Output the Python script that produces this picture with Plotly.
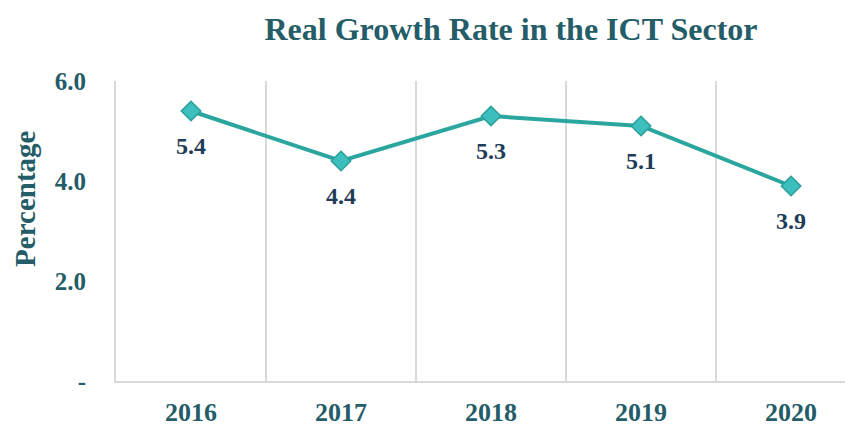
import plotly.graph_objects as go

years = ["2016", "2017", "2018", "2019", "2020"]
growth = [5.4, 4.4, 5.3, 5.1, 3.9]
labels = ["5.4", "4.4", "5.3", "5.1", "3.9"]
y_ticks = [0, 2, 4, 6]
y_ticktext = ["-", "2.0", "4.0", "6.0"]

xpos = list(range(len(years)))
serif = "Liberation Serif, Times New Roman, serif"
title_color = "#245c68"
label_color = "#1f3d58"

W, H = 845, 418  # page body adds an 8px offset

fig = go.Figure()
fig.add_trace(go.Scatter(
    x=xpos, y=growth, mode="lines+markers",
    line=dict(color="#2aa69f", width=4),
    marker=dict(symbol="diamond", size=15, color="#3cbfbd",
                line=dict(color="#2a9f9a", width=1.5)),
    hoverinfo="skip", showlegend=False,
))

for xi, yi, t in zip(xpos, growth, labels):
    fig.add_annotation(x=xi, y=yi, text="<b>" + t + "</b>", showarrow=False, yshift=-35,
                       font=dict(family=serif, size=24, color=label_color))

for b in [0.5, 1.5, 2.5, 3.5]:
    fig.add_shape(type="line", x0=b, x1=b, y0=0, y1=6, xref="x", yref="y",
                  line=dict(color="#d9d9d9", width=2), layer="below")

fig.add_annotation(text="<b>Percentage</b>", textangle=-90, showarrow=False,
                   xref="paper", yref="paper", x=-0.1235, y=0.607,
                   xanchor="center", yanchor="middle",
                   font=dict(family=serif, size=29, color=title_color))

fig.update_layout(
    width=W, height=H,
    margin=dict(l=108, r=0, t=73, b=45),
    paper_bgcolor="white", plot_bgcolor="white",
    title=dict(text="<b>Real Growth Rate in the ICT Sector</b>",
               x=503 / W, xanchor="center", xref="container",
               y=1 - 21 / H, yanchor="middle", yref="container",
               font=dict(family=serif, size=32, color=title_color)),
    xaxis=dict(range=[-0.5, 4.413], tickvals=xpos,
               ticktext=["<b>" + y + "</b>" for y in years],
               showgrid=False, zeroline=False, showline=True,
               linecolor="#d9d9d9", linewidth=2, ticks="",
               automargin=False, ticklabelstandoff=7,
               tickfont=dict(family=serif, size=26, color=title_color)),
    yaxis=dict(range=[0, 6], tickvals=y_ticks,
               ticktext=["<b>" + t + "</b>" for t in y_ticktext],
               showgrid=False, zeroline=False, showline=True,
               linecolor="#d9d9d9", linewidth=2, ticks="",
               automargin=False, ticklabelstandoff=23,
               tickfont=dict(family=serif, size=25, color=title_color)),
)

fig.write_html("out.html")
